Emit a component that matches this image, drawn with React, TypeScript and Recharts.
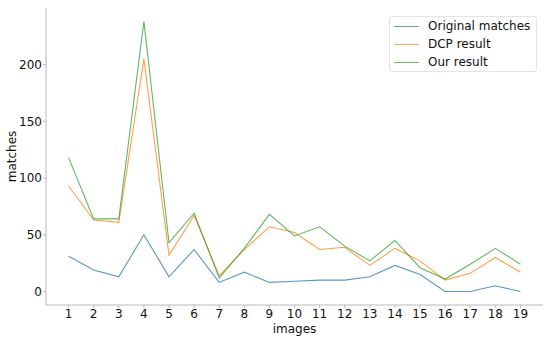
import { LineChart, Line, XAxis, YAxis } from 'recharts';

// values
const images = [1, 2, 3, 4, 5, 6, 7, 8, 9, 10, 11, 12, 13, 14, 15, 16, 17, 18, 19];
const original = [31, 19, 13, 50, 13, 37, 8, 17, 8, 9, 10, 10, 13, 23, 15, 0, 0, 5, 0];
const dcp = [93, 63, 61, 205, 32, 67, 14, 37, 57, 52, 37, 39, 23, 38, 27, 10, 16, 30, 17];
const ours = [118, 64, 64, 238, 43, 69, 12, 38, 68, 49, 57, 40, 27, 45, 21, 11, 24, 38, 24];
const yTicks = [0, 50, 100, 150, 200];

const series = [
  { key: 'original', name: 'Original matches', color: '#1f77b4' },
  { key: 'dcp', name: 'DCP result', color: '#ff7f0e' },
  { key: 'ours', name: 'Our result', color: '#2ca02c' },
];

const data = images.map((img, i) => ({
  img,
  original: original[i],
  dcp: dcp[i],
  ours: ours[i],
}));

const font = 'DejaVu Sans, sans-serif';
const spine = '#b8b8b8';

// matplotlib-style legend box in the upper right
const LegendBox = () => (
  <div
    style={{
      position: 'absolute',
      left: 389,
      top: 16,
      width: 146,
      height: 54,
      border: '1px solid #e4e4e4',
      borderRadius: 3,
      background: '#fff',
      fontFamily: font,
      fontSize: 12,
      color: '#111',
    }}
  >
    {series.map((s, i) => (
      <div
        key={s.key}
        style={{ position: 'absolute', left: 0, top: 1 + i * 18, height: 16, width: 146 }}
      >
        <div
          style={{
            position: 'absolute',
            left: 4,
            top: 8,
            width: 25,
            height: 1,
            background: s.color,
            opacity: 0.7,
          }}
        />
        <span style={{ position: 'absolute', left: 38, top: 0, lineHeight: '16px', whiteSpace: 'nowrap' }}>
          {s.name}
        </span>
      </div>
    ))}
  </div>
);

const App = () => {
  return (
    <div style={{ position: 'absolute', left: 0, top: 0, width: 550, height: 339, background: '#fff' }}>
      <LineChart width={550} height={339} data={data} margin={{ top: 8, right: 7, left: 0, bottom: 0 }}>
        <XAxis
          dataKey="img"
          type="number"
          domain={[0.1, 19.9]}
          ticks={images}
          allowDataOverflow
          height={34}
          stroke={spine}
          tickSize={3}
          tickMargin={1}
          tick={{ fill: '#111', fontSize: 12, fontFamily: font }}
          label={{ value: 'images', position: 'insideBottom', offset: 6, fill: '#111', fontSize: 12, fontFamily: font }}
        />
        <XAxis xAxisId="top" orientation="top" dataKey="img" type="number" domain={[0.1, 19.9]} height={0} tick={false} tickLine={false} stroke={spine} />
        <YAxis
          type="number"
          domain={[-11.9, 249.9]}
          ticks={yTicks}
          allowDataOverflow
          width={46}
          stroke={spine}
          tickSize={3}
          tickMargin={1}
          tick={{ fill: '#111', fontSize: 12, fontFamily: font }}
          label={{ value: 'matches', angle: -90, position: 'insideLeft', offset: 12, fill: '#111', fontSize: 12, fontFamily: font, style: { textAnchor: 'middle' } }}
        />
        <YAxis yAxisId="right" orientation="right" domain={[-11.9, 249.9]} width={0} tick={false} tickLine={false} stroke={spine} />
        {series.map((s) => (
          <Line
            key={s.key}
            type="linear"
            dataKey={s.key}
            name={s.name}
            stroke={s.color}
            strokeOpacity={0.75}
            strokeWidth={1.1}
            dot={false}
            isAnimationActive={false}
          />
        ))}
      </LineChart>
      <LegendBox />
    </div>
  );
};

export default App;
